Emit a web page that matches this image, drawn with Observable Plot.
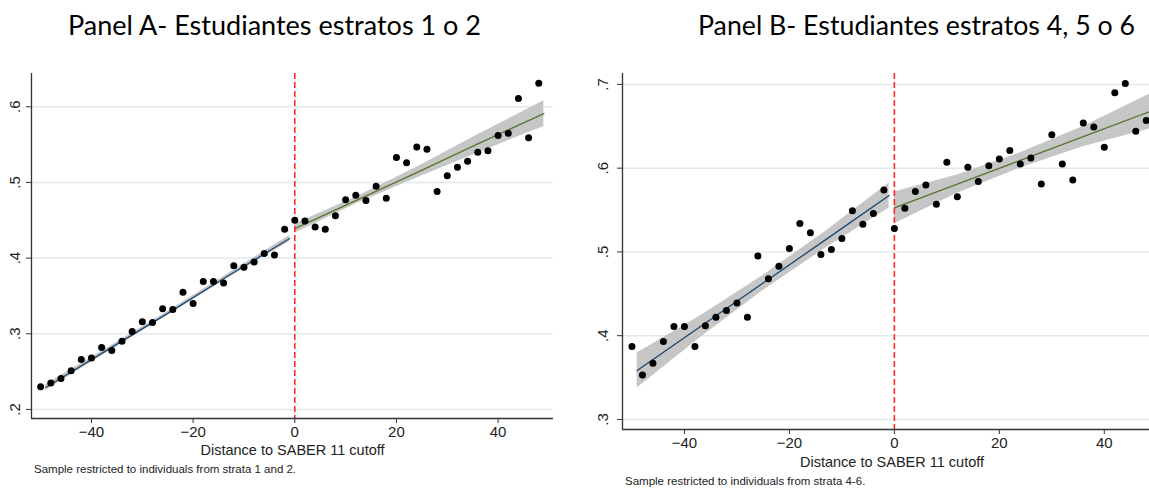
<!DOCTYPE html>
<html>
<head>
<meta charset="utf-8">
<script src="https://cdn.jsdelivr.net/npm/d3@7"></script>
<script src="https://cdn.jsdelivr.net/npm/@observablehq/plot@0.6"></script>
<style>
  html, body { margin: 0; padding: 0; background: #fff; overflow: hidden; }
  #root { position: relative; width: 1149px; height: 489px; overflow: hidden; background: #fff; }
  .panel { position: absolute; top: 0; }
  .panel svg { max-width: none !important; }
  .caption { position: absolute; font-family: "Liberation Sans", Arial, sans-serif; font-size: 11.5px; color: #222; white-space: nowrap; line-height: 1; }
  #titles { position: absolute; left: 0; top: 0; }
</style>
</head>
<body>
<div id="root">
  <svg id="titles" width="1149" height="60">
    <text id="titleA" x="68" y="35" font-family="Lato, 'Open Sans', sans-serif" font-size="26" fill="#000" textLength="413" lengthAdjust="spacingAndGlyphs">Panel A- Estudiantes estratos 1 o 2</text>
    <text id="titleB" x="698" y="35" font-family="Lato, 'Open Sans', sans-serif" font-size="26" fill="#000" textLength="437" lengthAdjust="spacingAndGlyphs">Panel B- Estudiantes estratos 4, 5 o 6</text>
  </svg>
  <div id="panelA" class="panel" style="left:0px; width:580px"></div>
  <div id="panelB" class="panel" style="left:580px; width:601px"></div>
  <div class="caption" id="capA" style="left:34px; top:464px">Sample restricted to individuals from strata 1 and 2.</div>
  <div class="caption" id="capB" style="left:625px; top:476px">Sample restricted to individuals from strata 4-6.</div>
</div>
<script>
// ---------------- data ----------------
const xTicks = [-40, -20, 0, 20, 40];
const xTitle = "Distance to SABER 11 cutoff";

// Panel A – binned means (strata 1 or 2)
const binsA = [-50,-48,-46,-44,-42,-40,-38,-36,-34,-32,-30,-28,-26,-24,-22,-20,-18,-16,-14,-12,-10,-8,-6,-4,-2,
               0,2,4,6,8,10,12,14,16,18,20,22,24,26,28,30,32,34,36,38,40,42,44,46,48];
const meansA = [0.230,0.235,0.241,0.251,0.266,0.268,0.282,0.278,0.290,0.303,
                0.316,0.315,0.333,0.332,0.355,0.340,0.369,0.369,0.367,0.390,
                0.388,0.395,0.406,0.404,0.438,
                0.450,0.449,0.441,0.438,0.456,0.477,0.483,0.476,0.495,0.479,
                0.533,0.526,0.547,0.544,0.488,0.509,0.520,0.528,0.540,0.542,
                0.562,0.565,0.611,0.559,0.631];
const yTicksA = [0.2, 0.3, 0.4, 0.5, 0.6];

// Panel A – fitted lines and 95% CI
const fitLeftA_x   = [-49, -37, -25, -13, -1];
const fitLeftA_y   = [0.229, 0.278, 0.327, 0.377, 0.426];
const fitLeftA_lo  = [0.225, 0.275, 0.3245, 0.374, 0.422];
const fitLeftA_hi  = [0.233, 0.281, 0.3295, 0.380, 0.430];
const fitRightA_x  = [0, 12, 24, 36, 49];
const fitRightA_y  = [0.439, 0.476, 0.513, 0.551, 0.591];
const fitRightA_lo = [0.433, 0.4715, 0.506, 0.539, 0.574];
const fitRightA_hi = [0.445, 0.4805, 0.520, 0.563, 0.608];

// Panel B – binned means (strata 4, 5 or 6)
const binsB = [-50,-48,-46,-44,-42,-40,-38,-36,-34,-32,-30,-28,-26,-24,-22,-20,-18,-16,-14,-12,-10,-8,-6,-4,-2,
               0,2,4,6,8,10,12,14,16,18,20,22,24,26,28,30,32,34,36,38,40,42,44,46,48];
const meansB = [0.387,0.353,0.367,0.393,0.411,0.411,0.387,0.412,0.422,0.430,
                0.439,0.422,0.495,0.468,0.483,0.504,0.534,0.523,0.497,0.503,
                0.516,0.549,0.533,0.546,0.574,
                0.528,0.552,0.572,0.580,0.557,0.607,0.566,0.601,0.584,0.603,
                0.611,0.621,0.605,0.612,0.581,0.640,0.605,0.586,0.654,0.649,
                0.625,0.690,0.701,0.644,0.657];
const yTicksB = [0.3, 0.4, 0.5, 0.6, 0.7];

// Panel B – fitted lines and 95% CI
const fitLeftB_x   = [-49, -37, -25, -13, -1];
const fitLeftB_y   = [0.3584, 0.4106, 0.4628, 0.5150, 0.5673];
const fitLeftB_lo  = [0.3374, 0.3976, 0.4538, 0.5050, 0.5523];
const fitLeftB_hi  = [0.3794, 0.4236, 0.4718, 0.5250, 0.5823];
const fitRightB_x  = [0, 12, 24, 36, 49];
const fitRightB_y  = [0.5526, 0.5809, 0.6093, 0.6376, 0.6683];
const fitRightB_lo = [0.5336, 0.5699, 0.6003, 0.6256, 0.6473];
const fitRightB_hi = [0.5716, 0.5919, 0.6183, 0.6496, 0.6893];

// ---------------- helpers ----------------
const zip = (xs, ys) => xs.map((x, i) => ({x, y: ys[i]}));
const band = (xs, ys, lo, hi) => xs.map((x, i) => ({x, y: ys[i], lo: lo[i], hi: hi[i]}));
const fmtY = d => String(d).replace(/^0/, "");

const navy = "#1a476f";
const green = "#55752f";
const bandFill = "#c6c6c6";
const gridColor = "#e0eaee";
const axisColor = "#333";

function panel({width, height, mL, mR, mT, mB, xDomain, yDomain, yTicks, pts, fitL, fitR, yLabelDx, xTitleDy}) {
  return Plot.plot({
    width, height,
    marginLeft: mL, marginRight: mR, marginTop: mT, marginBottom: mB,
    x: {domain: xDomain},
    y: {domain: yDomain},
    style: {fontFamily: "'Liberation Sans', Arial, sans-serif", fontSize: "15px", color: "#222", background: "transparent", overflow: "visible", maxWidth: "none"},
    marks: [
      Plot.gridY(yTicks, {stroke: gridColor, strokeOpacity: 1, strokeWidth: 1.5}),
      Plot.areaY(fitL, {x: "x", y1: "lo", y2: "hi", fill: bandFill}),
      Plot.areaY(fitR, {x: "x", y1: "lo", y2: "hi", fill: bandFill}),
      Plot.line(fitL, {x: "x", y: "y", stroke: navy, strokeWidth: 1.3}),
      Plot.line(fitR, {x: "x", y: "y", stroke: green, strokeWidth: 1.3}),
      Plot.ruleX([0], {stroke: "#ff2a2a", strokeWidth: 1.6, strokeDasharray: "6,3"}),
      Plot.dot(pts, {x: "x", y: "y", r: 3.5, fill: "#000", stroke: "none"}),
      Plot.ruleX([xDomain[0]], {stroke: axisColor, strokeWidth: 1.3}),
      Plot.ruleY([yDomain[0]], {stroke: axisColor, strokeWidth: 1.3}),
      Plot.axisX(xTicks, {tickSize: 5, tickPadding: 3, stroke: axisColor, fill: "#222", label: null, fontSize: 15}),
      Plot.axisY(yTicks, {tickSize: 5, stroke: axisColor, tickFormat: () => "", label: null}),
      Plot.text(yTicks, {y: d => d, frameAnchor: "left", dx: yLabelDx, rotate: -90, text: fmtY, textAnchor: "middle", lineAnchor: "middle", fontSize: 15, fill: "#222"}),
      Plot.text([xTitle], {frameAnchor: "bottom", dy: xTitleDy, text: d => d, fontSize: 14.5, fill: "#222", lineAnchor: "middle"})
    ]
  });
}

document.getElementById("panelA").appendChild(panel({
  width: 580, height: 489, mL: 31, mR: 27, mT: 73, mB: 71,
  xDomain: [-51.8, 50.9], yDomain: [0.188, 0.644], yTicks: yTicksA,
  pts: zip(binsA, meansA),
  fitL: band(fitLeftA_x, fitLeftA_y, fitLeftA_lo, fitLeftA_hi),
  fitR: band(fitRightA_x, fitRightA_y, fitRightA_lo, fitRightA_hi),
  yLabelDx: -16, xTitleDy: 32
}));

document.getElementById("panelB").appendChild(panel({
  width: 601, height: 489, mL: 42, mR: 20, mT: 73, mB: 60,
  xDomain: [-51.8, 50.9], yDomain: [0.288, 0.713], yTicks: yTicksB,
  pts: zip(binsB, meansB),
  fitL: band(fitLeftB_x, fitLeftB_y, fitLeftB_lo, fitLeftB_hi),
  fitR: band(fitRightB_x, fitRightB_y, fitRightB_lo, fitRightB_hi),
  yLabelDx: -19, xTitleDy: 33
}));
</script>
</body>
</html>
